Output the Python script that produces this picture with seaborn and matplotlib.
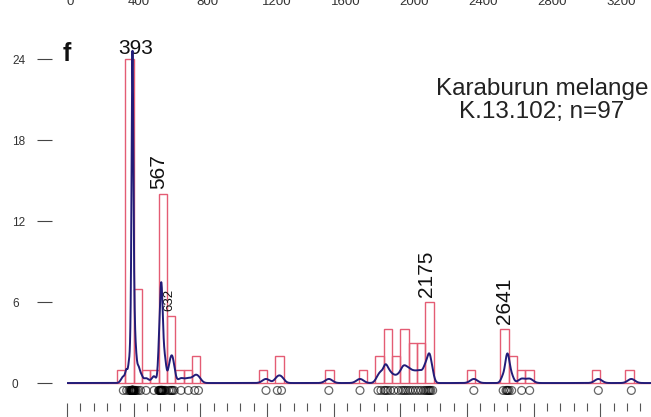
import numpy as np
import matplotlib
matplotlib.use("Agg")
import matplotlib.pyplot as plt
import seaborn as sns

# U-Pb detrital zircon ages (Ma), sample K.13.102
grain_ages = [
    338,
    358, 372, 380, 384, 386, 388, 389, 390, 390, 391, 391, 392, 392,
    393, 393, 393, 394, 394, 395, 395, 396, 397, 398, 399,
    401, 403, 406, 410, 416, 427, 441,
    474,
    522,
    550, 553, 557, 560, 562, 564, 566, 567, 569, 571, 574, 578, 585, 592,
    611, 621, 629, 634, 643,
    684,
    728,
    766, 789,
    1194,
    1262, 1287,
    1571,
    1758,
    1866, 1884,
    1903, 1912, 1924, 1940,
    1962, 1988,
    2007, 2019, 2031, 2044,
    2058, 2074, 2091,
    2108, 2124, 2141,
    2152, 2162, 2170, 2176, 2183, 2194,
    2441,
    2617, 2634, 2640, 2645,
    2653, 2668,
    2728,
    2776,
    3188,
    3386,
]

peak_ages = [393, 567, 632, 2175, 2641]
peak_font = [15, 15, 9.5, 15, 15]
peak_rot = [0, 90, 90, 90, 90]

y_ticks = [0, 6, 12, 18, 24]
upper_panel_ticks = [0, 400, 800, 1200, 1600, 2000, 2400, 2800, 3200]

sample_title = "Karaburun melange\nK.13.102; n=97"
panel_letter = "f"

bin_width = 50
bar_color = "#e45c74"
curve_color = "#221c78"

sns.set_style("white")
plt.rcParams["font.family"] = ["Liberation Sans", "DejaVu Sans"]

W, H = 651, 417
fig = plt.figure(figsize=(W / 100, H / 100), dpi=100)
ax = fig.add_axes([67 / W, 14 / H, 584 / W, 371 / H])
x_max = 3504
ax.set_xlim(0, x_max)
ax.set_ylim(-1.48, 26)

ages = np.asarray(grain_ages, dtype=float)

# histogram of ages, 50 Ma bins, outlined bars
sns.histplot(x=ages, binwidth=bin_width, binrange=(0, 3500), fill=False,
             element="bars", color=bar_color, linewidth=1.0, ax=ax, zorder=2)


# adaptive Gaussian kernel density estimate, in count units
def gauss(x, mu, s):
    return np.exp(-0.5 * ((x - mu) / s) ** 2) / (np.sqrt(2 * np.pi) * s)


pilot_bw = 20.0
local_bw = 8.4
curve_scale = 16.0
pilot = gauss(ages[:, None], ages[None, :], pilot_bw).sum(axis=1)
geo = np.exp(np.log(pilot).mean())
bw = local_bw * np.sqrt(geo / pilot)
grid = np.arange(0, x_max + 1, 1.0)
curve = curve_scale * gauss(grid[:, None], ages[None, :], bw[None, :]).sum(axis=1)

sns.lineplot(x=grid, y=curve, color=curve_color, linewidth=1.4,
             estimator=None, ax=ax, zorder=4)

# individual grain ages as open circles under the baseline
sns.scatterplot(x=ages, y=np.full(len(ages), -0.55), marker="o", s=32,
                facecolor="none", edgecolor="black", linewidth=0.9,
                alpha=0.6, ax=ax, zorder=5, legend=False)

# peak labels
counts, edges = np.histogram(ages, bins=np.arange(0, 3550, bin_width))
for age, fs, rot in zip(peak_ages, peak_font, peak_rot):
    h = counts[np.searchsorted(edges, age, side="right") - 1]
    offset = (2, -3) if rot == 0 else (-2, 0)
    ax.annotate(str(age), xy=(age, h + 0.35), xytext=offset,
                textcoords="offset points", ha="center", va="bottom",
                rotation=rot, fontsize=fs, color="#111111")

ax.text(2850, 20.9, sample_title, ha="center", va="center",
        multialignment="center", fontsize=17.5, linespacing=1.05,
        color="#222222")
ax.text(-24, 24.4, panel_letter, ha="left", va="center", fontsize=18,
        fontweight="bold", color="#111111", clip_on=False)

# axes styling
for side in ["top", "right", "left", "bottom"]:
    ax.spines[side].set_visible(False)
ax.spines["left"].set_position(("outward", 15 * 0.72))

ax.set_yticks(y_ticks)
ax.set_yticklabels([str(v) for v in y_ticks], ha="left")
ax.tick_params(axis="y", direction="out", length=15 * 0.72, width=0.8,
               color="#444444", pad=25 * 0.72, labelsize=8.5,
               labelcolor="#333333", left=True)

ax.set_xticks(np.arange(0, x_max, 400))
ax.set_xticks(np.arange(0, x_max, 80), minor=True)
ax.set_xticklabels([])
ax.tick_params(axis="x", which="major", direction="out", length=20 * 0.72,
               width=0.8, color="#555555", bottom=True)
ax.tick_params(axis="x", which="minor", direction="out", length=8 * 0.72,
               width=0.8, color="#555555", bottom=True)
ax.set_xlabel("")
ax.set_ylabel("")

# age scale of the panel above
ax_up = fig.add_axes([70 / W, 1 + 4 / H, (621 - 70) / W, 0.001])
ax_up.set_xlim(0, 3200)
ax_up.set_xticks(upper_panel_ticks)
ax_up.set_xticklabels([str(v) for v in upper_panel_ticks])
ax_up.tick_params(axis="x", length=0, pad=0, labelsize=9.5,
                  labelcolor="#333333")
ax_up.set_yticks([])
for side in ["top", "right", "left", "bottom"]:
    ax_up.spines[side].set_visible(False)
ax_up.patch.set_visible(False)

fig.savefig("out.png", dpi=100)
